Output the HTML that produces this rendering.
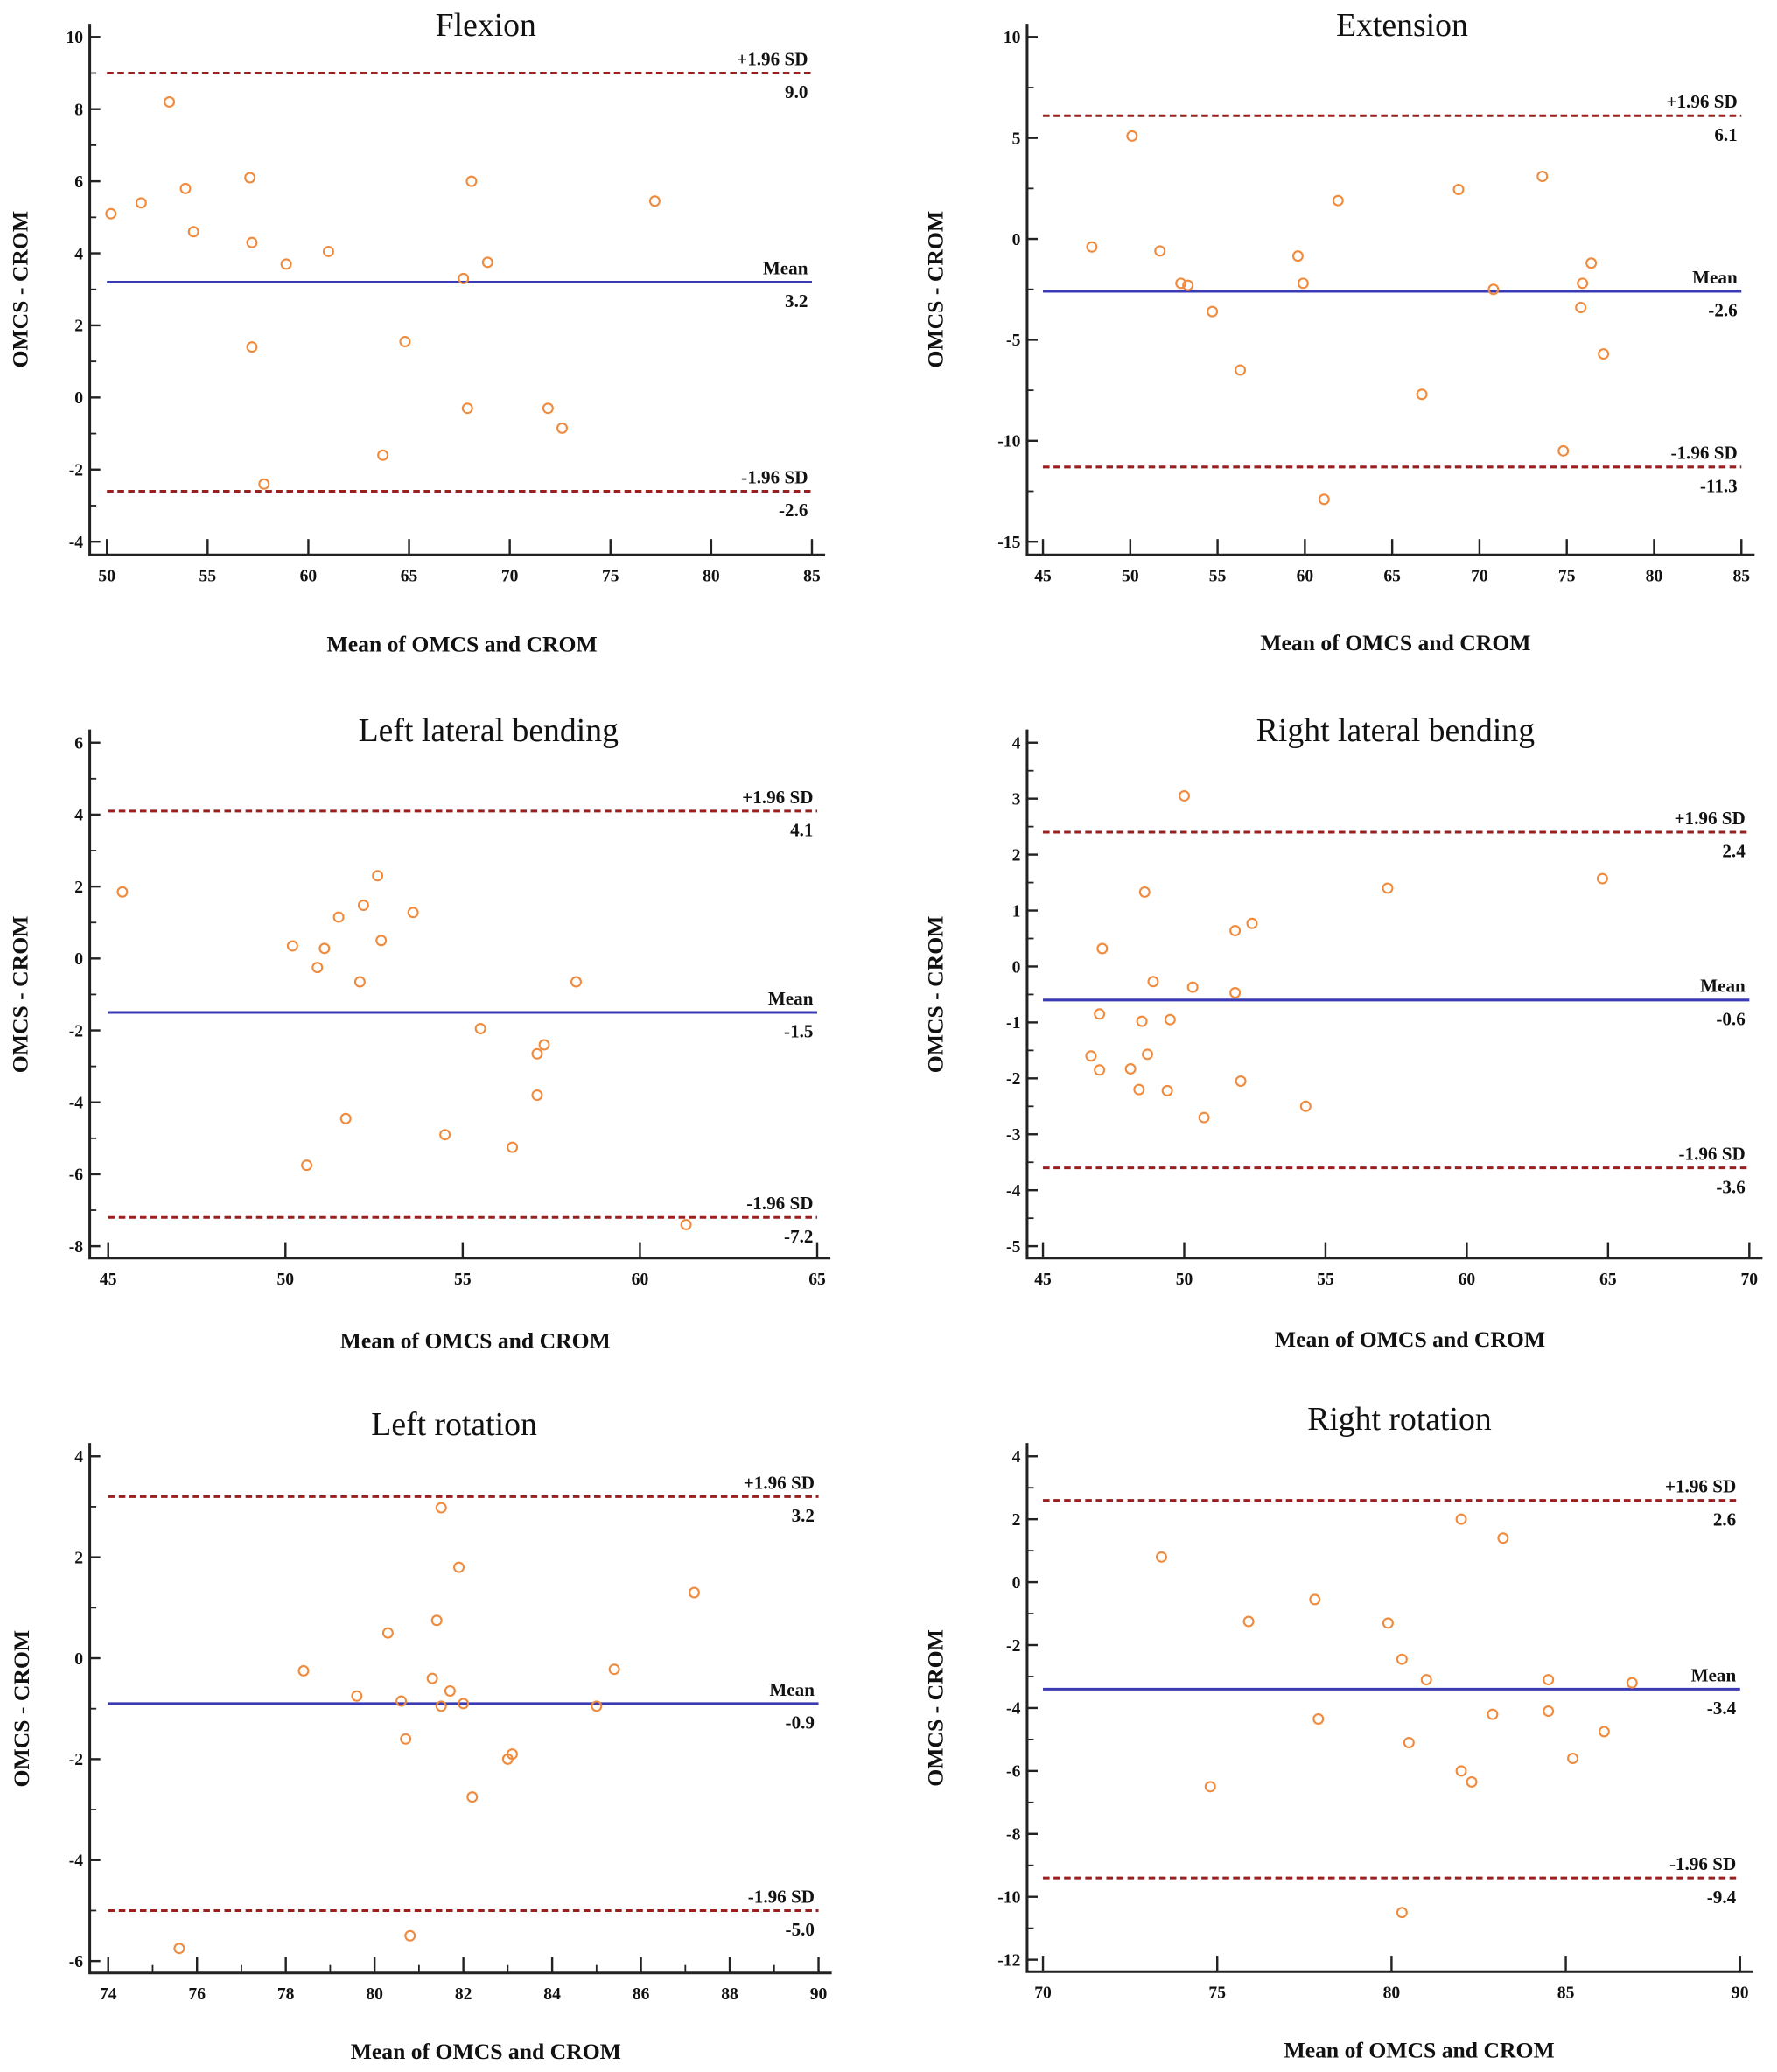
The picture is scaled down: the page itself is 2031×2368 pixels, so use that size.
<!DOCTYPE html>
<html><head><meta charset="utf-8"><style>
html,body{margin:0;padding:0;background:#fff}
svg{display:block}
text{font-family:"Liberation Serif",serif;fill:#111}
</style></head><body>
<svg id="fig" width="2031" height="2368" viewBox="0 0 1346 1568" preserveAspectRatio="none" xmlns="http://www.w3.org/2000/svg"></svg>
<script>
// ---- data ----
const flexX=[50.2,51.7,53.1,53.9,54.3,57.1,57.2,57.2,57.8,58.9,61,63.7,64.8,67.7,67.9,68.1,68.9,71.9,72.6,77.2];
const flexY=[5.1,5.4,8.2,5.8,4.6,6.1,4.3,1.4,-2.4,3.7,4.05,-1.6,1.55,3.3,-0.3,6.0,3.75,-0.3,-0.85,5.45];
const flexLimits=[9.0,3.2,-2.6];
const extX=[47.8,50.1,51.7,52.9,53.3,54.7,56.3,59.6,59.9,61.1,61.9,66.7,68.8,70.8,73.6,74.8,75.8,75.9,76.4,77.1];
const extY=[-0.4,5.1,-0.6,-2.2,-2.3,-3.6,-6.5,-0.85,-2.2,-12.9,1.9,-7.7,2.45,-2.5,3.1,-10.5,-3.4,-2.2,-1.2,-5.7];
const extLimits=[6.1,-2.6,-11.3];
const llbX=[45.4,50.2,50.9,51.1,51.5,52.1,52.2,52.6,52.7,53.6,50.6,51.7,54.5,55.5,56.4,57.1,57.1,57.3,58.2,61.3];
const llbY=[1.85,0.35,-0.25,0.28,1.15,-0.65,1.48,2.3,0.5,1.28,-5.75,-4.45,-4.9,-1.95,-5.25,-3.8,-2.65,-2.4,-0.65,-7.4];
const llbLimits=[4.1,-1.5,-7.2];
const rlbX=[46.7,47.0,47.0,47.1,48.1,48.4,48.5,48.6,48.7,48.9,49.4,49.5,50.0,50.3,50.7,51.8,51.8,52.0,52.4,54.3,57.2,64.8];
const rlbY=[-1.6,-1.85,-0.85,0.32,-1.83,-2.2,-0.98,1.33,-1.57,-0.27,-2.22,-0.95,3.05,-0.37,-2.7,-0.47,0.64,-2.05,0.77,-2.5,1.4,1.57];
const rlbLimits=[2.4,-0.6,-3.6];
const lrX=[75.6,78.4,79.6,80.3,80.6,80.7,80.8,81.3,81.4,81.5,81.5,81.7,81.9,82.0,82.2,83.0,83.1,85.0,85.4,87.2];
const lrY=[-5.75,-0.25,-0.75,0.5,-0.85,-1.6,-5.5,-0.4,0.75,2.98,-0.95,-0.65,1.8,-0.9,-2.75,-2.0,-1.9,-0.95,-0.22,1.3];
const lrLimits=[3.2,-0.9,-5.0];
const rrX=[73.4,74.8,75.9,77.8,77.9,79.9,80.3,80.3,80.5,81.0,82.0,82.0,82.3,82.9,83.2,84.5,84.5,85.2,86.1,86.9];
const rrY=[0.8,-6.5,-1.25,-0.55,-4.35,-1.3,-2.45,-10.5,-5.1,-3.1,2.0,-6.0,-6.35,-4.2,1.4,-3.1,-4.1,-5.6,-4.75,-3.2];
const rrLimits=[2.6,-3.4,-9.4];
const flexXTicks=[50,55,60,65,70,75,80,85], flexYTicks=[10,8,6,4,2,0,-2,-4];
const extXTicks=[45,50,55,60,65,70,75,80,85], extYTicks=[10,5,0,-5,-10,-15];
const llbXTicks=[45,50,55,60,65], llbYTicks=[6,4,2,0,-2,-4,-6,-8];
const rlbXTicks=[45,50,55,60,65,70], rlbYTicks=[4,3,2,1,0,-1,-2,-3,-4,-5];
const lrXTicks=[74,76,78,80,82,84,86,88,90], lrYTicks=[4,2,0,-2,-4,-6];
const rrXTicks=[70,75,80,85,90], rrYTicks=[4,2,0,-2,-4,-6,-8,-10,-12];
const titles=["Flexion","Extension","Left lateral bending","Right lateral bending","Left rotation","Right rotation"];

const NS="http://www.w3.org/2000/svg";
const svg=document.getElementById('fig');
function mk(tag,attrs,parent,txt){const e=document.createElementNS(NS,tag);for(const k in attrs)e.setAttribute(k,attrs[k]);if(txt!==undefined)e.textContent=txt;parent.appendChild(e);return e;}

function panel(key,title,xs,ys,lim,xt,yt,L){
  const g=mk('g',{},svg);
  
  
  const x0=xt[0],x1=xt[xt.length-1],y0=yt[0],y1=yt[yt.length-1];
  const sx=v=>L.px0+(v-x0)/(x1-x0)*(L.px1-L.px0);
  const sy=v=>L.py0+(v-y0)/(y1-y0)*(L.py1-L.py0);
  const t=mk('text',{x:L.tx,y:L.ty,'text-anchor':'middle','font-size':25},g,title);
  
  
  const ax=mk('path',{d:`M${L.ax},${L.py0-10} V${L.bot} H${L.px1+10}`,stroke:'#222','stroke-width':2,fill:'none'},g);
  
  
  yt.forEach((v,i)=>{
    const y=sy(v);
    mk('line',{x1:L.ax,x2:L.ax+8,y1:y,y2:y,stroke:'#222','stroke-width':1.6},g);
    const lb=mk('text',{x:L.ax-5,y:y+4.5,'text-anchor':'end','font-size':13,'font-weight':'bold'},g,String(v));
    
    
    if(i<yt.length-1){const ym=sy((v+yt[i+1])/2);mk('line',{x1:L.ax,x2:L.ax+5,y1:ym,y2:ym,stroke:'#222','stroke-width':1.2},g);}
  });
  xt.forEach((v,i)=>{
    const x=sx(v);
    mk('line',{x1:x,x2:x,y1:L.bot,y2:L.bot-12,stroke:'#222','stroke-width':1.6},g);
    const lb=mk('text',{x:x,y:L.bot+20,'text-anchor':'middle','font-size':13,'font-weight':'bold'},g,String(v));
    
    
    if(L.xminor&&i<xt.length-1){const xm=sx((v+xt[i+1])/2);mk('line',{x1:xm,x2:xm,y1:L.bot,y2:L.bot-6,stroke:'#222','stroke-width':1.2},g);}
  });
  const xl=mk('text',{x:L.xlx,y:L.xly,'text-anchor':'middle','font-size':17,'font-weight':'bold'},g,'Mean of OMCS and CROM');
  
  
  const ylx=L.ylx, yly=(L.py0+L.py1)/2;
  const yl=mk('text',{x:ylx,y:yly,'text-anchor':'middle','font-size':17,'font-weight':'bold',transform:`rotate(-90 ${ylx} ${yly})`},g,'OMCS - CROM');
  
  
  const names=['+1.96 SD','Mean','-1.96 SD'];
  lim.forEach((v,i)=>{
    const y=sy(v);
    const ln=mk('line',{x1:sx(x0),x2:sx(x1),y1:y,y2:y,stroke:i==1?'#3a3ab4':'#9a1f1f','stroke-width':2,'stroke-dasharray':i==1?'none':'5,3'},g);
    
    
    const a=mk('text',{x:sx(x1)-3,y:y-6,'text-anchor':'end','font-size':14,'font-weight':'bold'},g,names[i]);
    
    
    const b=mk('text',{x:sx(x1)-3,y:y+19,'text-anchor':'end','font-size':14,'font-weight':'bold'},g,v.toFixed(1));
    
    
  });
  xs.forEach((v,i)=>{
    const c=mk('circle',{cx:sx(v),cy:sy(ys[i]),r:3.6,fill:'none',stroke:'#f08a3c','stroke-width':1.4},g);
    
    
  });
}
panel('flexion',titles[0],flexX,flexY,flexLimits,flexXTicks,flexYTicks,{px0:81,px1:615,py0:28,py1:410,ax:68,bot:420,tx:368,ty:27,xlx:350,xly:493,ylx:21});
panel('extension',titles[1],extX,extY,extLimits,extXTicks,extYTicks,{px0:790,px1:1319,py0:28,py1:410,ax:778,bot:420,tx:1062,ty:27,xlx:1057,xly:492,ylx:714});
panel('left-lateral',titles[2],llbX,llbY,llbLimits,llbXTicks,llbYTicks,{px0:82,px1:619,py0:562,py1:943,ax:68,bot:952,tx:370,ty:561,xlx:360,xly:1020,ylx:21});
panel('right-lateral',titles[3],rlbX,rlbY,rlbLimits,rlbXTicks,rlbYTicks,{px0:790,px1:1325,py0:562,py1:943,ax:778,bot:952,tx:1057,ty:561,xlx:1068,xly:1019,ylx:714});
panel('left-rotation',titles[4],lrX,lrY,lrLimits,lrXTicks,lrYTicks,{px0:82,px1:620,py0:1102,py1:1484,ax:68,bot:1493,tx:344,ty:1086,xlx:368,xly:1558,ylx:22,xminor:true});
panel('right-rotation',titles[5],rrX,rrY,rrLimits,rrXTicks,rrYTicks,{px0:790,px1:1318,py0:1102,py1:1483,ax:778,bot:1492,tx:1060,ty:1082,xlx:1075,xly:1557,ylx:714});
</script>
</body></html>
